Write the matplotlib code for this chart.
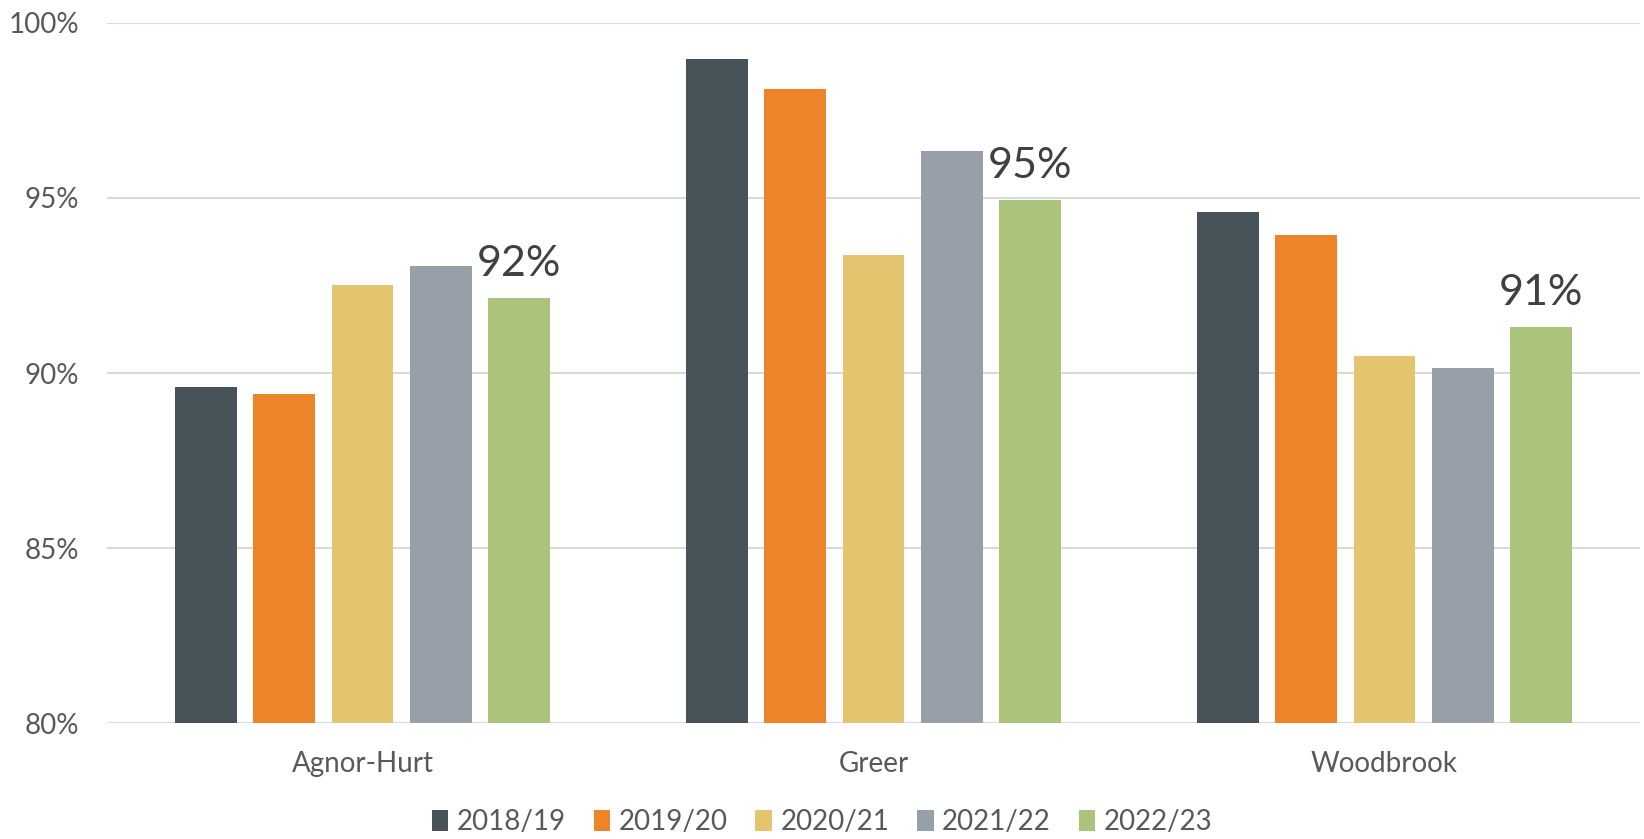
import matplotlib
matplotlib.use("Agg")
import matplotlib.pyplot as plt
import numpy as np

categories = ["Agnor-Hurt", "Greer", "Woodbrook"]
years = ["2018/19", "2019/20", "2020/21", "2021/22", "2022/23"]
v_2018_19 = [89.6, 98.96, 94.6]
v_2019_20 = [89.4, 98.1, 93.94]
v_2020_21 = [92.5, 93.37, 90.49]
v_2021_22 = [93.06, 96.35, 90.15]
v_2022_23 = [92.15, 94.94, 91.3]
series = [v_2018_19, v_2019_20, v_2020_21, v_2021_22, v_2022_23]
colors = ["#475358", "#ED8429", "#E5C46F", "#979FA8", "#AAC47C"]
yticks = [80, 85, 90, 95, 100]

plt.rcParams['font.family'] = ['Lato', 'DejaVu Sans']

fig = plt.figure(figsize=(16.44, 8.39), dpi=100)
ax = fig.add_axes([107/1644, 1 - 723.3/839, (1640-107)/1644, (723.3-22.7)/839])

x = np.arange(len(categories))
pitch = 0.153
width = 0.121
for j, (vals, c, lab) in enumerate(zip(series, colors, years)):
    ax.bar(x + (j - 2) * pitch, [v - 80 for v in vals], bottom=80, width=width,
           color=c, label=lab, zorder=3)

# data labels on last series
for i, v in enumerate(v_2022_23):
    ax.annotate(f"{round(v):.0f}%", xy=(x[i] + 2 * pitch, v), xytext=(0, 22),
                textcoords='offset pixels', ha='center', va='baseline',
                fontsize=31, color='#404040', zorder=4)

ax.set_xlim(-0.5, 2.5)
ax.set_ylim(80, 100)
ax.set_yticks(yticks)
ax.set_yticklabels([f"{t}%" for t in yticks])
ax.set_xticks(x)
ax.set_xticklabels(categories)
ax.grid(axis='y', color='#D9D9D9', linewidth=1.5, zorder=0)
for s in ax.spines.values():
    s.set_visible(False)
ax.tick_params(axis='y', length=0, pad=20, labelsize=20, labelcolor='#595959')
ax.tick_params(axis='x', length=0, pad=20, labelsize=20, labelcolor='#595959')

leg = fig.legend(loc='center', bbox_to_anchor=(0.5, 17/839), ncol=5, frameon=False,
                 fontsize=20, labelcolor='#595959', handlelength=0.6, handleheight=0.8,
                 handletextpad=0.3, columnspacing=1.0, borderaxespad=0, borderpad=0)

fig.savefig("out.png", dpi=100)
